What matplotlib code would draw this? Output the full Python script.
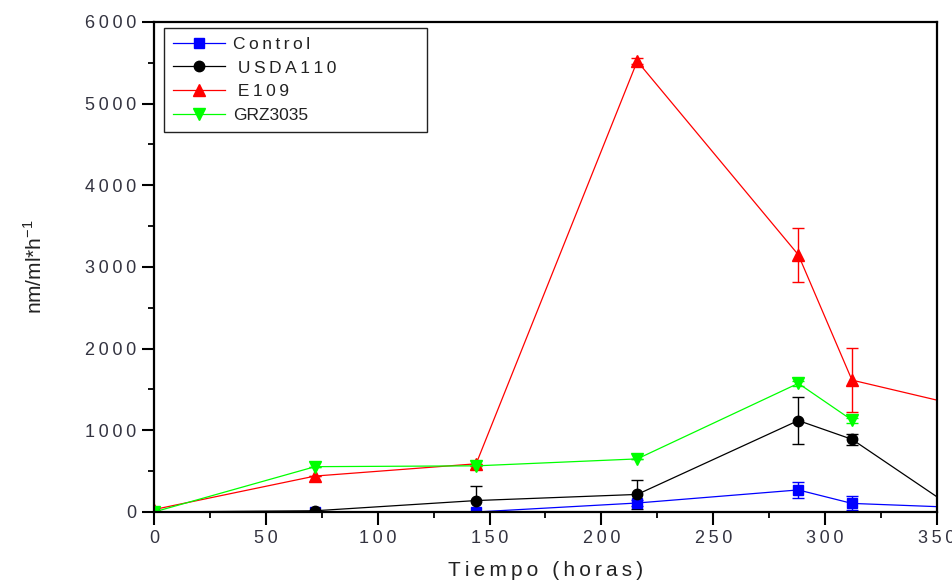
import matplotlib.pyplot as plt
from matplotlib.ticker import MultipleLocator, FuncFormatter

plt.rcParams['font.family'] = ['Liberation Sans', 'DejaVu Sans']
plt.rcParams['mathtext.fontset'] = 'custom'
plt.rcParams['mathtext.rm'] = 'Liberation Sans'

horas = [0, 72, 144, 216, 288, 312, 360]

control = [0, 0, 0, 110, 270, 105, 55]
control_err = [0, 0, 0, 40, 100, 85, 0]

usda110 = [0, 15, 140, 215, 1120, 890, 0]
usda110_err = [0, 0, 180, 175, 290, 65, 0]

e109 = [30, 440, 590, 5520, 3150, 1615, 1305]
e109_err = [0, 0, 0, 40, 330, 395, 0]

grz_horas = [0, 72, 144, 216, 288, 312]
grz3035 = [0, 555, 565, 650, 1575, 1125]
grz3035_err = [0, 0, 0, 0, 30, 30]

THIN = '\u2009'


def spaced(text):
    # Origin-style letter spacing
    return THIN.join(text)


fig = plt.figure(figsize=(9.53, 5.82), dpi=100)
ax = fig.add_axes([0.1616, 0.1203, 0.8216, 0.8419])

series = [
    (horas, control, control_err, '#0000ff', 's', 6.5, spaced('Control')),
    (horas, usda110, usda110_err, '#000000', 'o', 7.5, ' ' + spaced('USDA110')),
    (horas, e109, e109_err, '#ff0000', '^', 9, ' ' + spaced('E109')),
    (grz_horas, grz3035, grz3035_err, '#00ff00', 'v', 9, 'GRZ3035'),
]

handles = []
for x, y, err, color, marker, ms, label in series:
    eb = ax.errorbar(x, y, yerr=err, color=color, marker=marker, markersize=ms,
                     linewidth=0.9, elinewidth=1.0, capsize=4, capthick=1.0,
                     label=label)
    handles.append(eb[0])

ax.set_xlim(0, 350)
ax.set_ylim(0, 6000)
ax.xaxis.set_major_locator(MultipleLocator(50))
ax.xaxis.set_minor_locator(MultipleLocator(25))
ax.yaxis.set_major_locator(MultipleLocator(1000))
ax.yaxis.set_minor_locator(MultipleLocator(500))
ax.xaxis.set_major_formatter(FuncFormatter(lambda v, p: spaced(f'{v:.0f}')))
ax.yaxis.set_major_formatter(FuncFormatter(lambda v, p: spaced(f'{v:.0f}')))
ax.tick_params(which='major', direction='out', length=9, width=1.5,
               labelsize=13, colors='black', labelcolor='#333340', pad=4)
ax.tick_params(which='minor', direction='out', length=4.5, width=1.3)
for side in ax.spines.values():
    side.set_linewidth(1.6)

ax.set_xlabel(spaced('Tiempo (horas)'), fontsize=15, color='#222222',
              labelpad=10)
ax.set_ylabel('nm/ml*h$^{-1}$', fontsize=15, color='#222222', labelpad=28)

leg = ax.legend(handles=handles, labels=[s[-1] for s in series],
                loc='upper left', bbox_to_anchor=(0.0128, 0.988, 0.336, 0),
                mode='expand', borderaxespad=0, fontsize=12.5, frameon=True,
                fancybox=False, edgecolor='#222222', borderpad=0.5,
                labelspacing=0.5, handlelength=3.0, handletextpad=0.5,
                framealpha=1)
leg.get_frame().set_linewidth(1.0)
for t in leg.get_texts():
    t.set_color('#222222')

fig.savefig('out.png', dpi=100)
plt.close(fig)
